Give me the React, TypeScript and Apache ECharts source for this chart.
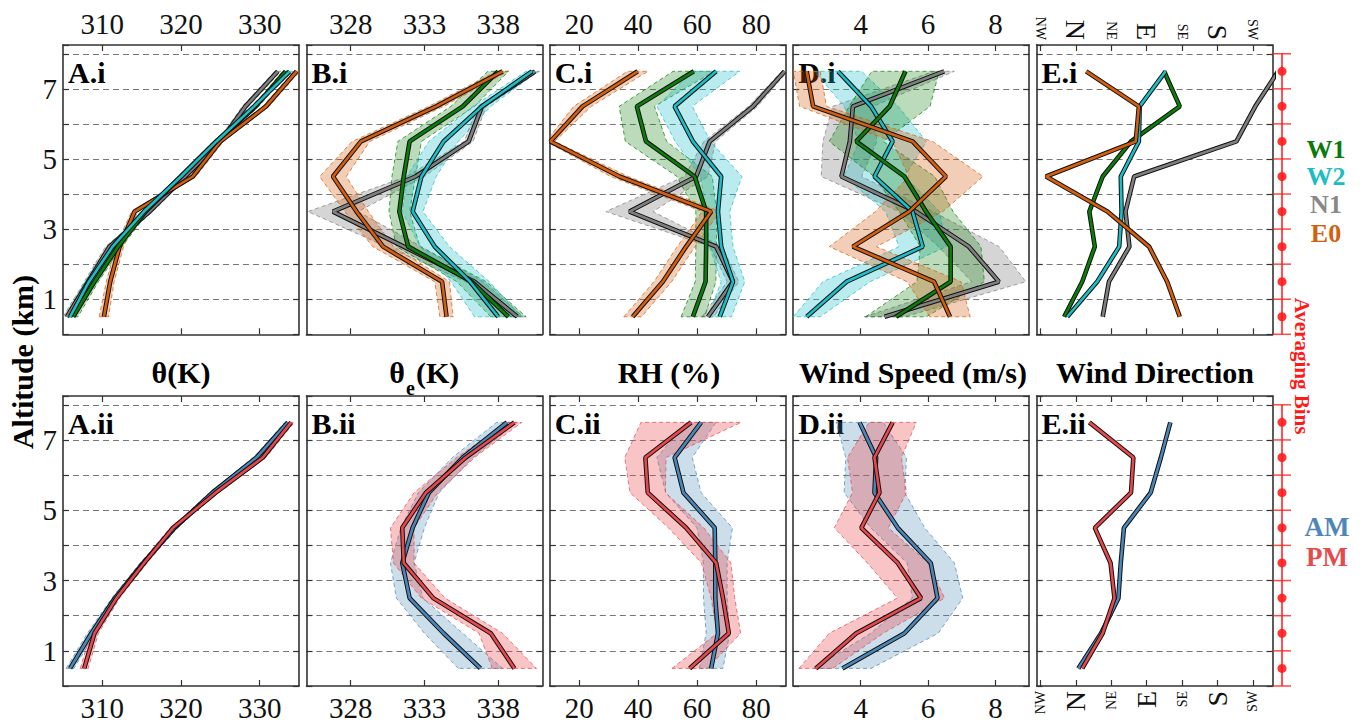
import { useEffect, useRef } from 'react';
import * as echarts from 'echarts';

// ---------- data ----------
const ALT = [0.5, 1.5, 2.5, 3.5, 4.5, 5.5, 6.5, 7.5];
const BIN_EDGES = [0, 1, 2, 3, 4, 5, 6, 7, 8];

// θ (K)
const THETA_W1 = [306.3, 309.0, 312.0, 315.5, 320.0, 324.5, 329.5, 333.3];
const THETA_W1_ERR = [0.6, 0.5, 0.5, 0.4, 0.4, 0.4, 0.4, 0.4];
const THETA_W2 = [305.9, 308.3, 311.3, 315.3, 320.0, 324.5, 329.3, 333.8];
const THETA_W2_ERR = [0.6, 0.5, 0.5, 0.4, 0.4, 0.4, 0.4, 0.4];
const THETA_N1 = [305.5, 308.2, 310.9, 316.0, 320.5, 325.0, 328.2, 332.3];
const THETA_N1_ERR = [0.5, 0.5, 0.5, 0.4, 0.4, 0.4, 0.4, 0.4];
const THETA_E0 = [310.2, 311.0, 312.2, 314.1, 321.5, 325.0, 330.8, 334.7];
const THETA_E0_ERR = [0.6, 0.5, 0.5, 0.4, 0.4, 0.4, 0.4, 0.4];
const THETA_AM = [305.9, 308.6, 311.6, 315.2, 319.2, 324.0, 329.6, 333.6];
const THETA_AM_ERR = [0.5, 0.5, 0.4, 0.4, 0.4, 0.4, 0.4, 0.4];
const THETA_PM = [307.7, 309.0, 311.8, 315.3, 319.0, 324.4, 330.4, 334.0];
const THETA_PM_ERR = [0.5, 0.5, 0.4, 0.4, 0.4, 0.4, 0.4, 0.4];

// θe (K)
const THETAE_W1 = [338.7, 336.2, 331.9, 331.3, 331.6, 332.0, 335.6, 338.0];
const THETAE_W1_ERR = [1.2, 1.0, 0.8, 0.7, 0.8, 0.8, 0.8, 0.7];
const THETAE_W2 = [338.0, 336.1, 333.7, 332.2, 332.8, 334.3, 336.9, 340.3];
const THETAE_W2_ERR = [1.6, 1.3, 1.0, 0.7, 1.0, 1.0, 0.6, 0.4];
const THETAE_N1 = [339.3, 336.4, 331.6, 326.8, 332.4, 336.0, 336.9, 340.5];
const THETAE_N1_ERR = [0.4, 0.6, 1.2, 1.7, 0.6, 0.3, 0.3, 0.3];
const THETAE_E0 = [334.5, 334.2, 330.2, 328.4, 326.8, 328.7, 333.8, 338.3];
const THETAE_E0_ERR = [0.45, 0.5, 0.7, 0.8, 0.9, 0.6, 0.5, 0.4];
const THETAE_AM = [336.8, 334.3, 332.0, 331.5, 332.2, 333.3, 335.6, 338.6];
const THETAE_AM_ERR = [1.5, 1.3, 0.9, 0.8, 0.8, 0.7, 0.7, 0.7];
const THETAE_PM = [339.1, 337.5, 333.6, 331.6, 331.5, 333.1, 335.8, 339.1];
const THETAE_PM_ERR = [1.5, 0.8, 0.8, 0.7, 0.8, 0.8, 0.6, 0.5];

// RH (%)
const RH_W1 = [58.5, 62.8, 63.0, 63.0, 59.1, 42.6, 39.5, 58.8];
const RH_W1_ERR = [4, 3.5, 3.5, 3.5, 6, 7, 6, 7];
const RH_W2 = [67.6, 72.1, 68.1, 67.0, 68.1, 58.5, 52.3, 66.4];
const RH_W2_ERR = [4, 4, 4, 4, 7, 6, 6, 8];
const RH_N1 = [63.6, 72.1, 66.4, 37.0, 59.6, 64.2, 78.9, 89.6];
const RH_N1_ERR = [2, 2, 2, 8, 4, 2, 1.5, 1];
const RH_E0 = [38.1, 48.3, 56.2, 64.7, 33.6, 10.2, 21.1, 39.8];
const RH_E0_ERR = [3, 3, 3, 3, 3, 1.5, 3, 3.5];
const RH_AM = [64.7, 67.0, 66.1, 66.1, 65.9, 55.3, 52.3, 61.3];
const RH_AM_ERR = [4, 4, 4, 4, 6, 6, 6, 5];
const RH_PM = [57.4, 70.7, 68.7, 66.4, 56.2, 43.2, 42.4, 57.9];
const RH_PM_ERR = [6, 4, 4, 5, 6, 6, 7, 17];

// Wind speed (m/s)
const WS_W1 = [5.05, 6.67, 6.67, 5.94, 5.30, 3.87, 4.86, 5.33];
const WS_W1_ERR = [0.9, 1.0, 0.9, 0.8, 0.9, 0.8, 1.2, 1.0];
const WS_W2 = [2.4, 3.58, 5.84, 5.54, 4.41, 4.95, 4.31, 3.33];
const WS_W2_ERR = [0.4, 0.7, 0.7, 0.8, 0.9, 1.0, 0.8, 0.7];
const WS_N1 = [4.71, 8.1, 7.21, 5.64, 3.43, 3.68, 3.77, 6.48];
const WS_N1_ERR = [0.6, 0.8, 0.9, 0.5, 0.6, 0.8, 0.6, 0.3];
const WS_E0 = [6.65, 6.18, 3.77, 5.44, 6.53, 5.54, 2.59, 2.4];
const WS_E0_ERR = [0.6, 0.8, 0.7, 1.0, 1.1, 0.6, 0.4, 0.4];
const WS_AM = [3.46, 5.3, 6.28, 6.08, 5.1, 4.41, 4.46, 3.97];
const WS_AM_ERR = [0.85, 1.0, 0.75, 0.7, 0.8, 0.9, 0.9, 0.7];
const WS_PM = [2.67, 3.87, 5.79, 5.1, 4.02, 4.56, 4.41, 4.95];
const WS_PM_ERR = [0.5, 0.8, 0.7, 0.9, 0.8, 0.8, 0.8, 0.7];

// Wind direction (degrees, N = 0, E = 90)
const WD_W1 = [-15, 8, 24, 17, 34, 70, 132, 112];
const WD_W2 = [-11, 27, 55, 58, 57, 80, 81, 114];
const WD_N1 = [34, 42, 68, 63, 74, 204, 228, 257];
const WD_E0 = [132, 116, 93, 40, -38, 76, 80, 13];
const WD_AM = [3, 32, 54, 57, 61, 95, 108, 120];
const WD_PM = [8, 34, 49, 44, 24, 70, 73, 17];

const THETA_TICKS = [310, 320, 330];
const THETAE_TICKS = [328, 333, 338];
const RH_TICKS = [20, 40, 60, 80];
const WS_TICKS = [4, 6, 8];
const DIR_TICKS = [-45, 0, 45, 90, 135, 180, 225];
const DIR_LABELS = ['NW', 'N', 'NE', 'E', 'SE', 'S', 'SW'];
const ALT_LABELS = [1, 3, 5, 7];

const TITLES = ['θ(K)', '', 'RH (%)', 'Wind Speed (m/s)', 'Wind Direction'];
const GROUPS_TOP = ['W1', 'W2', 'N1', 'E0'];
const GROUPS_BOTTOM = ['AM', 'PM'];

// ---------- styles ----------
const FONT = '"Liberation Serif", "Times New Roman", Times, serif';
const FRAME = '#333';
const COLORS: Record<string, string> = {
  W1: '#0b7d0b',
  W2: '#1bbdc6',
  N1: '#7f7f7f',
  E0: '#d55e0e',
  AM: '#4a87b8',
  PM: '#e8474c',
};
const LEGEND_COLORS: Record<string, string> = {
  W1: '#0a7a0a',
  W2: '#1cbcc4',
  N1: '#888888',
  E0: '#d2600f',
  AM: '#4f86b8',
  PM: '#e54b4b',
};
const RGB: Record<string, string> = {
  W1: '11,125,11',
  W2: '27,189,198',
  N1: '127,127,127',
  E0: '213,94,14',
  AM: '74,135,184',
  PM: '232,71,76',
};
const BAND_ALPHA: Record<string, number> = { W1: 0.28, W2: 0.3, N1: 0.33, E0: 0.3, AM: 0.28, PM: 0.32 };

type SeriesDef = { key: string; vals: number[]; err?: number[] };
type PanelDef = {
  row: number;
  col: number;
  label: string;
  min: number;
  max: number;
  ticks: number[];
  dir?: boolean;
  series: SeriesDef[];
};

const PANELS: PanelDef[] = [
  {
    row: 0, col: 0, label: 'A.i', min: 305, max: 335, ticks: THETA_TICKS,
    series: [
      { key: 'N1', vals: THETA_N1, err: THETA_N1_ERR },
      { key: 'E0', vals: THETA_E0, err: THETA_E0_ERR },
      { key: 'W1', vals: THETA_W1, err: THETA_W1_ERR },
      { key: 'W2', vals: THETA_W2, err: THETA_W2_ERR },
    ],
  },
  {
    row: 0, col: 1, label: 'B.i', min: 325, max: 341, ticks: THETAE_TICKS,
    series: [
      { key: 'N1', vals: THETAE_N1, err: THETAE_N1_ERR },
      { key: 'W1', vals: THETAE_W1, err: THETAE_W1_ERR },
      { key: 'W2', vals: THETAE_W2, err: THETAE_W2_ERR },
      { key: 'E0', vals: THETAE_E0, err: THETAE_E0_ERR },
    ],
  },
  {
    row: 0, col: 2, label: 'C.i', min: 10, max: 90, ticks: RH_TICKS,
    series: [
      { key: 'N1', vals: RH_N1, err: RH_N1_ERR },
      { key: 'W1', vals: RH_W1, err: RH_W1_ERR },
      { key: 'W2', vals: RH_W2, err: RH_W2_ERR },
      { key: 'E0', vals: RH_E0, err: RH_E0_ERR },
    ],
  },
  {
    row: 0, col: 3, label: 'D.i', min: 2, max: 9, ticks: WS_TICKS,
    series: [
      { key: 'N1', vals: WS_N1, err: WS_N1_ERR },
      { key: 'W2', vals: WS_W2, err: WS_W2_ERR },
      { key: 'W1', vals: WS_W1, err: WS_W1_ERR },
      { key: 'E0', vals: WS_E0, err: WS_E0_ERR },
    ],
  },
  {
    row: 0, col: 4, label: 'E.i', min: -50, max: 250, ticks: DIR_TICKS, dir: true,
    series: [
      { key: 'N1', vals: WD_N1 },
      { key: 'W1', vals: WD_W1 },
      { key: 'W2', vals: WD_W2 },
      { key: 'E0', vals: WD_E0 },
    ],
  },
  {
    row: 1, col: 0, label: 'A.ii', min: 305, max: 335, ticks: THETA_TICKS,
    series: [
      { key: 'AM', vals: THETA_AM, err: THETA_AM_ERR },
      { key: 'PM', vals: THETA_PM, err: THETA_PM_ERR },
    ],
  },
  {
    row: 1, col: 1, label: 'B.ii', min: 325, max: 341, ticks: THETAE_TICKS,
    series: [
      { key: 'AM', vals: THETAE_AM, err: THETAE_AM_ERR },
      { key: 'PM', vals: THETAE_PM, err: THETAE_PM_ERR },
    ],
  },
  {
    row: 1, col: 2, label: 'C.ii', min: 10, max: 90, ticks: RH_TICKS,
    series: [
      { key: 'AM', vals: RH_AM, err: RH_AM_ERR },
      { key: 'PM', vals: RH_PM, err: RH_PM_ERR },
    ],
  },
  {
    row: 1, col: 3, label: 'D.ii', min: 2, max: 9, ticks: WS_TICKS,
    series: [
      { key: 'AM', vals: WS_AM, err: WS_AM_ERR },
      { key: 'PM', vals: WS_PM, err: WS_PM_ERR },
    ],
  },
  {
    row: 1, col: 4, label: 'E.ii', min: -50, max: 250, ticks: DIR_TICKS, dir: true,
    series: [
      { key: 'AM', vals: WD_AM },
      { key: 'PM', vals: WD_PM },
    ],
  },
];

// ---------- layout ----------
const COL_LEFT0 = 63;
const COL_PITCH = 243.4;
const PANEL_W = 236;
const ROW_TOP = [45, 396];
const ROW_H = [289.3, 290];
const Y_MAX = 8.25;

function buildOption() {
  const grids: any[] = [];
  const xAxes: any[] = [];
  const yAxes: any[] = [];
  const series: any[] = [];
  const graphics: any[] = [];

  PANELS.forEach((p) => {
    const gi = grids.length;
    const left = COL_LEFT0 + p.col * COL_PITCH;
    const top = ROW_TOP[p.row];
    const height = ROW_H[p.row];
    grids.push({ left, top, width: PANEL_W, height, containLabel: false, outerBoundsMode: 'none' });

    const mainPos = p.row === 0 ? 'top' : 'bottom';
    const otherPos = p.row === 0 ? 'bottom' : 'top';
    const tickStyle = { color: FRAME, width: 1.2 };
    const lineStyle = { color: FRAME, width: 1.6 };

    const xi = xAxes.length;
    xAxes.push({
      type: 'value',
      gridIndex: gi,
      position: mainPos,
      min: p.min,
      max: p.max,
      axisLine: { show: true, onZero: false, lineStyle },
      axisTick: { show: true, inside: true, length: 6, customValues: p.ticks, lineStyle: tickStyle },
      axisLabel: p.dir
        ? {
            show: true,
            customValues: p.ticks,
            rotate: 90,
            margin: 5,
            color: '#111',
            fontFamily: FONT,
            formatter: (v: number) => {
              const i = DIR_TICKS.indexOf(Math.round(v));
              const t = i >= 0 ? DIR_LABELS[i] : '';
              return t.length === 1 ? `{b|${t}}` : `{s|${t}}`;
            },
            rich: {
              b: { fontSize: 28, fontFamily: FONT, color: '#111' },
              s: { fontSize: 14, fontFamily: FONT, color: '#111' },
            },
          }
        : {
            show: true,
            customValues: p.ticks,
            margin: 7,
            color: '#111',
            fontFamily: FONT,
            fontSize: 29,
            formatter: (v: number) => String(v),
          },
      splitLine: { show: false },
    });
    xAxes.push({
      type: 'value',
      gridIndex: gi,
      position: otherPos,
      min: p.min,
      max: p.max,
      axisLine: { show: true, onZero: false, lineStyle },
      axisTick: { show: true, inside: true, length: 6, customValues: p.ticks, lineStyle: tickStyle },
      axisLabel: { show: false },
      splitLine: { show: false },
    });

    const yi = yAxes.length;
    yAxes.push({
      type: 'value',
      gridIndex: gi,
      position: 'left',
      min: 0,
      max: Y_MAX,
      interval: 1,
      axisLine: { show: true, onZero: false, lineStyle },
      axisTick: { show: true, inside: true, length: 6, lineStyle: tickStyle },
      axisLabel: {
        show: p.col === 0,
        margin: 6,
        color: '#111',
        fontFamily: FONT,
        fontSize: 29,
        formatter: (v: number) => (ALT_LABELS.indexOf(v) >= 0 ? String(v) : ''),
      },
      splitLine: {
        show: true,
        showMinLine: false,
        showMaxLine: false,
        lineStyle: { color: '#777', width: 1.1, type: [6, 4] },
      },
    });
    yAxes.push({
      type: 'value',
      gridIndex: gi,
      position: 'right',
      min: 0,
      max: Y_MAX,
      interval: 1,
      axisLine: { show: true, onZero: false, lineStyle },
      axisTick: { show: true, inside: true, length: 6, lineStyle: tickStyle },
      axisLabel: { show: false },
      splitLine: { show: false },
    });

    // bands
    p.series.forEach((s) => {
      if (!s.err) return;
      const vals = s.vals;
      const err = s.err;
      const rgb = RGB[s.key];
      const alpha = BAND_ALPHA[s.key];
      series.push({
        type: 'custom',
        xAxisIndex: xi,
        yAxisIndex: yi,
        silent: true,
        clip: true,
        z: 2,
        data: [[vals[0], ALT[0]]],
        renderItem: (params: any, api: any) => {
          const pts: number[][] = [];
          for (let i = 0; i < ALT.length; i++) pts.push(api.coord([vals[i] - err[i], ALT[i]]));
          for (let i = ALT.length - 1; i >= 0; i--) pts.push(api.coord([vals[i] + err[i], ALT[i]]));
          const cs = params.coordSys;
          return {
            type: 'group',
            clipPath: { type: 'rect', shape: { x: cs.x, y: cs.y, width: cs.width, height: cs.height } },
            children: [
              {
                type: 'polygon',
                shape: { points: pts },
                style: {
                  fill: `rgba(${rgb},${alpha})`,
                  stroke: `rgba(${rgb},0.9)`,
                  lineWidth: 0.8,
                  lineDash: [4, 3],
                },
              },
            ],
          };
        },
      });
    });

    // lines (black outline + coloured core)
    p.series.forEach((s) => {
      const data = ALT.map((a, i) => [s.vals[i], a]);
      series.push({
        type: 'line',
        xAxisIndex: xi,
        yAxisIndex: yi,
        data,
        symbol: 'none',
        showSymbol: false,
        silent: true,
        clip: true,
        z: 3,
        lineStyle: { color: '#111', width: 4.6 },
        itemStyle: { color: '#111' },
      });
      series.push({
        type: 'line',
        xAxisIndex: xi,
        yAxisIndex: yi,
        data,
        symbol: 'none',
        showSymbol: false,
        silent: true,
        clip: true,
        z: 3,
        lineStyle: { color: COLORS[s.key], width: 2.6 },
        itemStyle: { color: COLORS[s.key] },
      });
    });

    graphics.push({
      type: 'text',
      x: left + 5,
      y: top + 27,
      z: 1,
      style: {
        text: p.label,
        fill: '#000',
        fontSize: 30,
        fontWeight: 'bold',
        fontFamily: FONT,
        align: 'left',
        verticalAlign: 'middle',
        textAlign: 'left',
        textVerticalAlign: 'middle',
      },
    });
  });

  // averaging bins axes (one per row)
  [0, 1].forEach((r) => {
    const gi = grids.length;
    grids.push({ left: 1272, top: ROW_TOP[r], width: 20, height: ROW_H[r], containLabel: false, outerBoundsMode: 'none' });
    const xi = xAxes.length;
    xAxes.push({ type: 'value', gridIndex: gi, min: -1, max: 1, show: false });
    const yi = yAxes.length;
    yAxes.push({ type: 'value', gridIndex: gi, min: 0, max: Y_MAX, show: false });
    series.push({
      type: 'line',
      xAxisIndex: xi,
      yAxisIndex: yi,
      data: [[0, BIN_EDGES[0]], [0, BIN_EDGES[BIN_EDGES.length - 1]]],
      symbol: 'none',
      silent: true,
      lineStyle: { color: '#ff1a1a', width: 1.5 },
    });
    series.push({
      type: 'scatter',
      xAxisIndex: xi,
      yAxisIndex: yi,
      data: BIN_EDGES.map((e) => [0, e]),
      symbol: 'rect',
      symbolSize: [18, 1.5],
      silent: true,
      itemStyle: { color: '#ff1a1a' },
    });
    series.push({
      type: 'scatter',
      xAxisIndex: xi,
      yAxisIndex: yi,
      data: ALT.map((a) => [0, a]),
      symbol: 'circle',
      symbolSize: 9,
      silent: true,
      itemStyle: { color: '#ff0000' },
    });
  });

  const txt = (text: string, x: number, y: number, opts: any = {}) => ({
    type: 'text',
    x,
    y,
    rotation: opts.rotation || 0,
    z: 5,
    style: {
      text,
      fill: opts.fill || '#000',
      fontSize: opts.fontSize || 30,
      fontWeight: 'bold',
      fontFamily: FONT,
      align: opts.align || 'center',
      verticalAlign: 'middle',
      textAlign: opts.align || 'center',
      textVerticalAlign: 'middle',
    },
  });

  // column titles between the rows
  const titleCenters = [181, 425, 669, 913, 1155];
  TITLES.forEach((t, c) => {
    if (t) graphics.push(txt(t, titleCenters[c], 372));
  });
  // θe(K) with subscript
  graphics.push(txt('θ', 405, 372, { align: 'right' }));
  graphics.push(txt('e', 406, 388, { align: 'left', fontSize: 20 }));
  graphics.push(txt('(K)', 416, 372, { align: 'left' }));

  graphics.push(txt('Altitude (km)', 22, 362, { rotation: Math.PI / 2, fontSize: 30 }));
  graphics.push(txt('Averaging Bins', 1302, 366, { rotation: -Math.PI / 2, fontSize: 21, fill: '#ff1a1a' }));

  const legendY = [149, 176, 204, 233];
  GROUPS_TOP.forEach((g, i) => graphics.push(txt(g, 1326, legendY[i], { fill: LEGEND_COLORS[g], fontSize: 26 })));
  const legendY2 = [527, 557];
  GROUPS_BOTTOM.forEach((g, i) => graphics.push(txt(g, 1327, legendY2[i], { fill: LEGEND_COLORS[g], fontSize: 27 })));

  return {
    animation: false,
    backgroundColor: '#fff',
    grid: grids,
    xAxis: xAxes,
    yAxis: yAxes,
    series,
    graphic: { elements: graphics },
  };
}

export default function App() {
  const ref = useRef<HTMLDivElement>(null);
  useEffect(() => {
    if (!ref.current) return;
    const chart = echarts.init(ref.current, undefined, { renderer: 'svg' });
    chart.setOption(buildOption() as any);
    return () => chart.dispose();
  }, []);
  return (
    <div
      ref={ref}
      style={{ position: 'absolute', left: 0, top: 0, width: 1364, height: 724, background: '#fff' }}
    />
  );
}
